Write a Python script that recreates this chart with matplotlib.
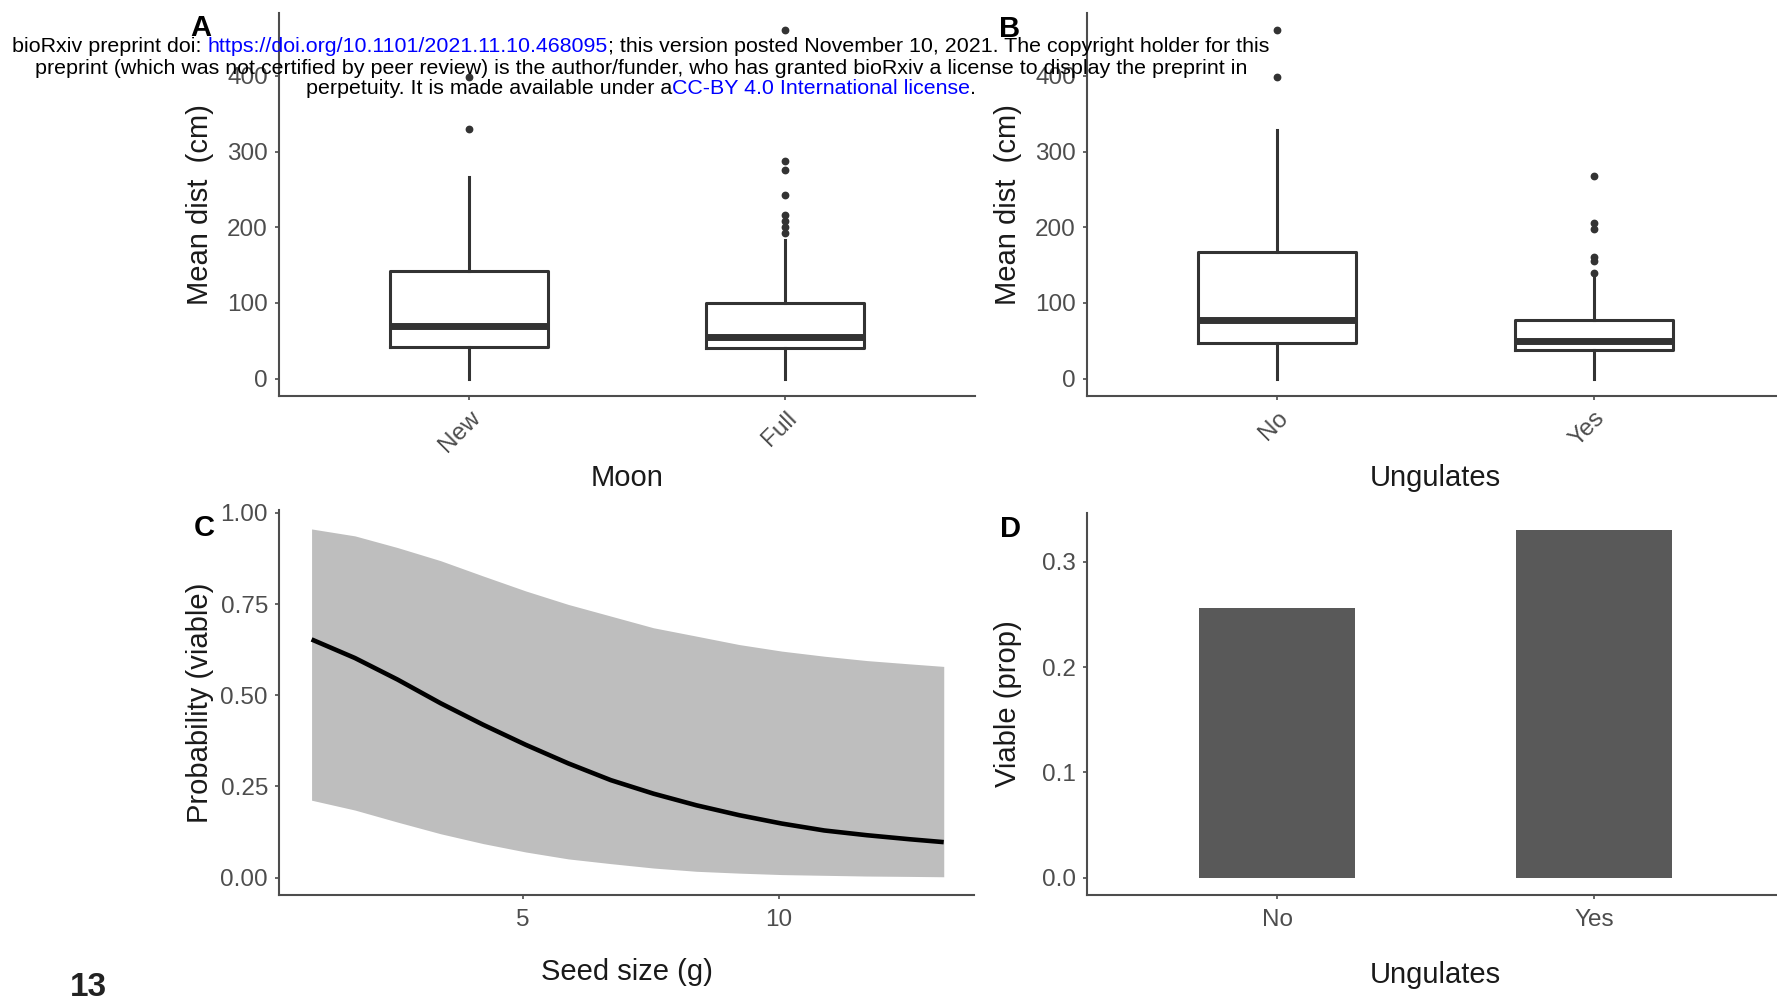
"""
Four panel figure: dispersal distance boxplots (moon, ungulates),
seed viability curve and viable proportion bars.
"""
#===========================================
import numpy as np
import matplotlib
matplotlib.use('Agg')
import matplotlib.pyplot as plt
#===========================================

plt.rcParams['font.family'] = ['Liberation Sans', 'DejaVu Sans']

W, H = 1777, 997
DPI = 100

#===========================================
# data
moon_cats   = ['New', 'Full']
moon_q1     = [42, 41]
moon_med    = [69, 55]
moon_q3     = [142, 100]
moon_lo     = [0, 0]
moon_hi     = [266, 183]
moon_fliers = [[330, 399], [460, 287, 276, 243, 216, 208, 200, 192]]

ung_cats    = ['No', 'Yes']
ung_q1      = [47, 38]
ung_med     = [77, 50]
ung_q3      = [167, 77]
ung_lo      = [0, 0]
ung_hi      = [328, 135]
ung_fliers  = [[460, 399], [267, 205, 197, 161, 155, 140]]

seed_x   = [0.885, 1.73, 2.56, 3.40, 4.23, 5.06, 5.89, 6.72, 7.55, 8.39,
            9.22, 10.05, 10.88, 11.71, 12.54, 13.21]
seed_fit = [0.653, 0.602, 0.543, 0.478, 0.419, 0.364, 0.313, 0.267, 0.230, 0.198,
            0.171, 0.148, 0.129, 0.116, 0.105, 0.097]
seed_upr = [0.956, 0.937, 0.905, 0.869, 0.827, 0.786, 0.749, 0.717, 0.685, 0.662,
            0.639, 0.621, 0.607, 0.595, 0.586, 0.579]
seed_lwr = [0.212, 0.185, 0.152, 0.120, 0.093, 0.070, 0.051, 0.038, 0.026, 0.017,
            0.012, 0.008, 0.006, 0.004, 0.003, 0.002]

viable_cats = ['No', 'Yes']
viable_prop = [0.256, 0.330]

#===========================================
fig = plt.figure(figsize=(W / DPI, H / DPI), dpi=DPI)
fig.patch.set_facecolor('white')

AX_COL   = '#4d4d4d'
TXT_COL  = '#1a1a1a'
BOX_COL  = '#333333'


def px_axes(x0, y0, x1, y1):
    return fig.add_axes([x0 / W, 1 - y1 / H, (x1 - x0) / W, (y1 - y0) / H])


def classic(ax):
    for s in ['top', 'right']:
        ax.spines[s].set_visible(False)
    for s in ['left', 'bottom']:
        ax.spines[s].set_color(AX_COL)
        ax.spines[s].set_linewidth(1.5)
    ax.tick_params(length=3, width=1.2, color=AX_COL, labelsize=17.5,
                   labelcolor=AX_COL, pad=5)
    ax.set_facecolor('white')


def labels(ax, xlab, ylab, xly, yl_x=-0.1135):
    ax.set_xlabel(xlab, fontsize=21, color=TXT_COL, va='center')
    ax.set_ylabel(ylab, fontsize=21, color=TXT_COL, va='center')
    ax.xaxis.set_label_coords(0.5, xly)
    ax.yaxis.set_label_coords(yl_x, 0.5)


def boxes(ax, cats, q1, med, q3, lo, hi, fliers):
    stats = []
    for i in range(len(cats)):
        stats.append(dict(med=med[i], q1=q1[i], q3=q3[i], whislo=lo[i],
                          whishi=hi[i], fliers=fliers[i], label=cats[i]))
    ax.bxp(stats, positions=[1, 2], widths=0.5, showcaps=False,
           boxprops=dict(color=BOX_COL, linewidth=2.2),
           whiskerprops=dict(color=BOX_COL, linewidth=2.2),
           medianprops=dict(color=BOX_COL, linewidth=5, solid_capstyle='butt'),
           flierprops=dict(marker='o', markerfacecolor=BOX_COL,
                           markeredgecolor=BOX_COL, markersize=4.6))
    ax.set_xlim(0.4, 2.6)
    ax.set_ylim(-23, 483)
    ax.set_yticks([0, 100, 200, 300, 400])
    ax.set_xticks([1, 2])
    ax.set_xticklabels(cats)
    for t in ax.get_xticklabels():
        t.set_rotation(45)
        t.set_rotation_mode('anchor')
        t.set_ha('right')
        t.set_va('top')


#===========================================
# A: moon phase
axA = px_axes(279, 13, 975, 396)
classic(axA)
boxes(axA, moon_cats, moon_q1, moon_med, moon_q3, moon_lo, moon_hi, moon_fliers)
labels(axA, 'Moon', 'Mean dist  (cm)', -0.214)

# B: ungulates
axB = px_axes(1087, 13, 1784, 396)
classic(axB)
boxes(axB, ung_cats, ung_q1, ung_med, ung_q3, ung_lo, ung_hi, ung_fliers)
labels(axB, 'Ungulates', 'Mean dist  (cm)', -0.214, -0.113)

# C: seed size curve
axC = px_axes(279, 510, 974, 895)
classic(axC)
axC.fill_between(seed_x, seed_lwr, seed_upr, color='#bebebe', linewidth=0)
axC.plot(seed_x, seed_fit, color='black', linewidth=3.3, solid_capstyle='butt')
axC.set_xlim(0.25, 13.8)
axC.set_ylim(-0.048, 1.008)
axC.set_xticks([5, 10])
axC.set_yticks([0, 0.25, 0.5, 0.75, 1.0])
axC.set_yticklabels(['0.00', '0.25', '0.50', '0.75', '1.00'])
axC.tick_params(axis='x', pad=7)
labels(axC, 'Seed size (g)', 'Probability (viable)', -0.2)

# D: viable proportion
axD = px_axes(1087, 513, 1784, 895)
classic(axD)
axD.bar([1, 2], viable_prop, width=0.49, color='#595959')
axD.set_xlim(0.4, 2.6)
axD.set_ylim(-0.0165, 0.3465)
axD.set_xticks([1, 2])
axD.set_xticklabels(viable_cats)
axD.set_yticks([0.0, 0.1, 0.2, 0.3])
axD.tick_params(axis='x', pad=7)
labels(axD, 'Ungulates', 'Viable (prop)', -0.209, -0.113)

#===========================================
# panel letters
for s, x, y in [('A', 201, 28), ('B', 1010, 29), ('C', 204, 528), ('D', 1010, 529)]:
    fig.text(x / W, 1 - y / H, s, fontsize=21, fontweight='bold', color='black',
             ha='center', va='center')

# page number
fig.text(88 / W, 1 - 972 / H, '13', fontsize=24, fontweight='bold', color='#222222',
         ha='center', va='top')

#===========================================
# bioRxiv stamp, centred lines with coloured pieces
BLUE = '#0000ff'
HEAD_X = 641
HEAD_SIZE = 15.4
head_lines = [
    ([('bioRxiv preprint doi: ', 'black'),
      ('https://doi.org/10.1101/2021.11.10.468095', BLUE),
      ('; this version posted November 10, 2021. The copyright holder for this', 'black')], 46),
    ([('preprint (which was not certified by peer review) is the author/funder, '
       'who has granted bioRxiv a license to display the preprint in', 'black')], 68),
    ([('perpetuity. It is made available under a', 'black'),
      ('CC-BY 4.0 International license', BLUE),
      ('.', 'black')], 89),
]

fig.canvas.draw()
rend = fig.canvas.get_renderer()


def text_px(s):
    t = fig.text(0, 0, '|' + s + '|', fontsize=HEAD_SIZE)
    w1 = t.get_window_extent(rend).width
    t.set_text('||')
    w0 = t.get_window_extent(rend).width
    t.remove()
    return w1 - w0


for parts, yc in head_lines:
    widths = [text_px(s) for s, c in parts]
    x = HEAD_X - sum(widths) / 2
    for (s, c), w in zip(parts, widths):
        fig.text(x / W, 1 - yc / H, s, color=c, fontsize=HEAD_SIZE,
                 ha='left', va='center', zorder=10)
        x += w

fig.savefig('out.png', dpi=DPI, facecolor='white')
